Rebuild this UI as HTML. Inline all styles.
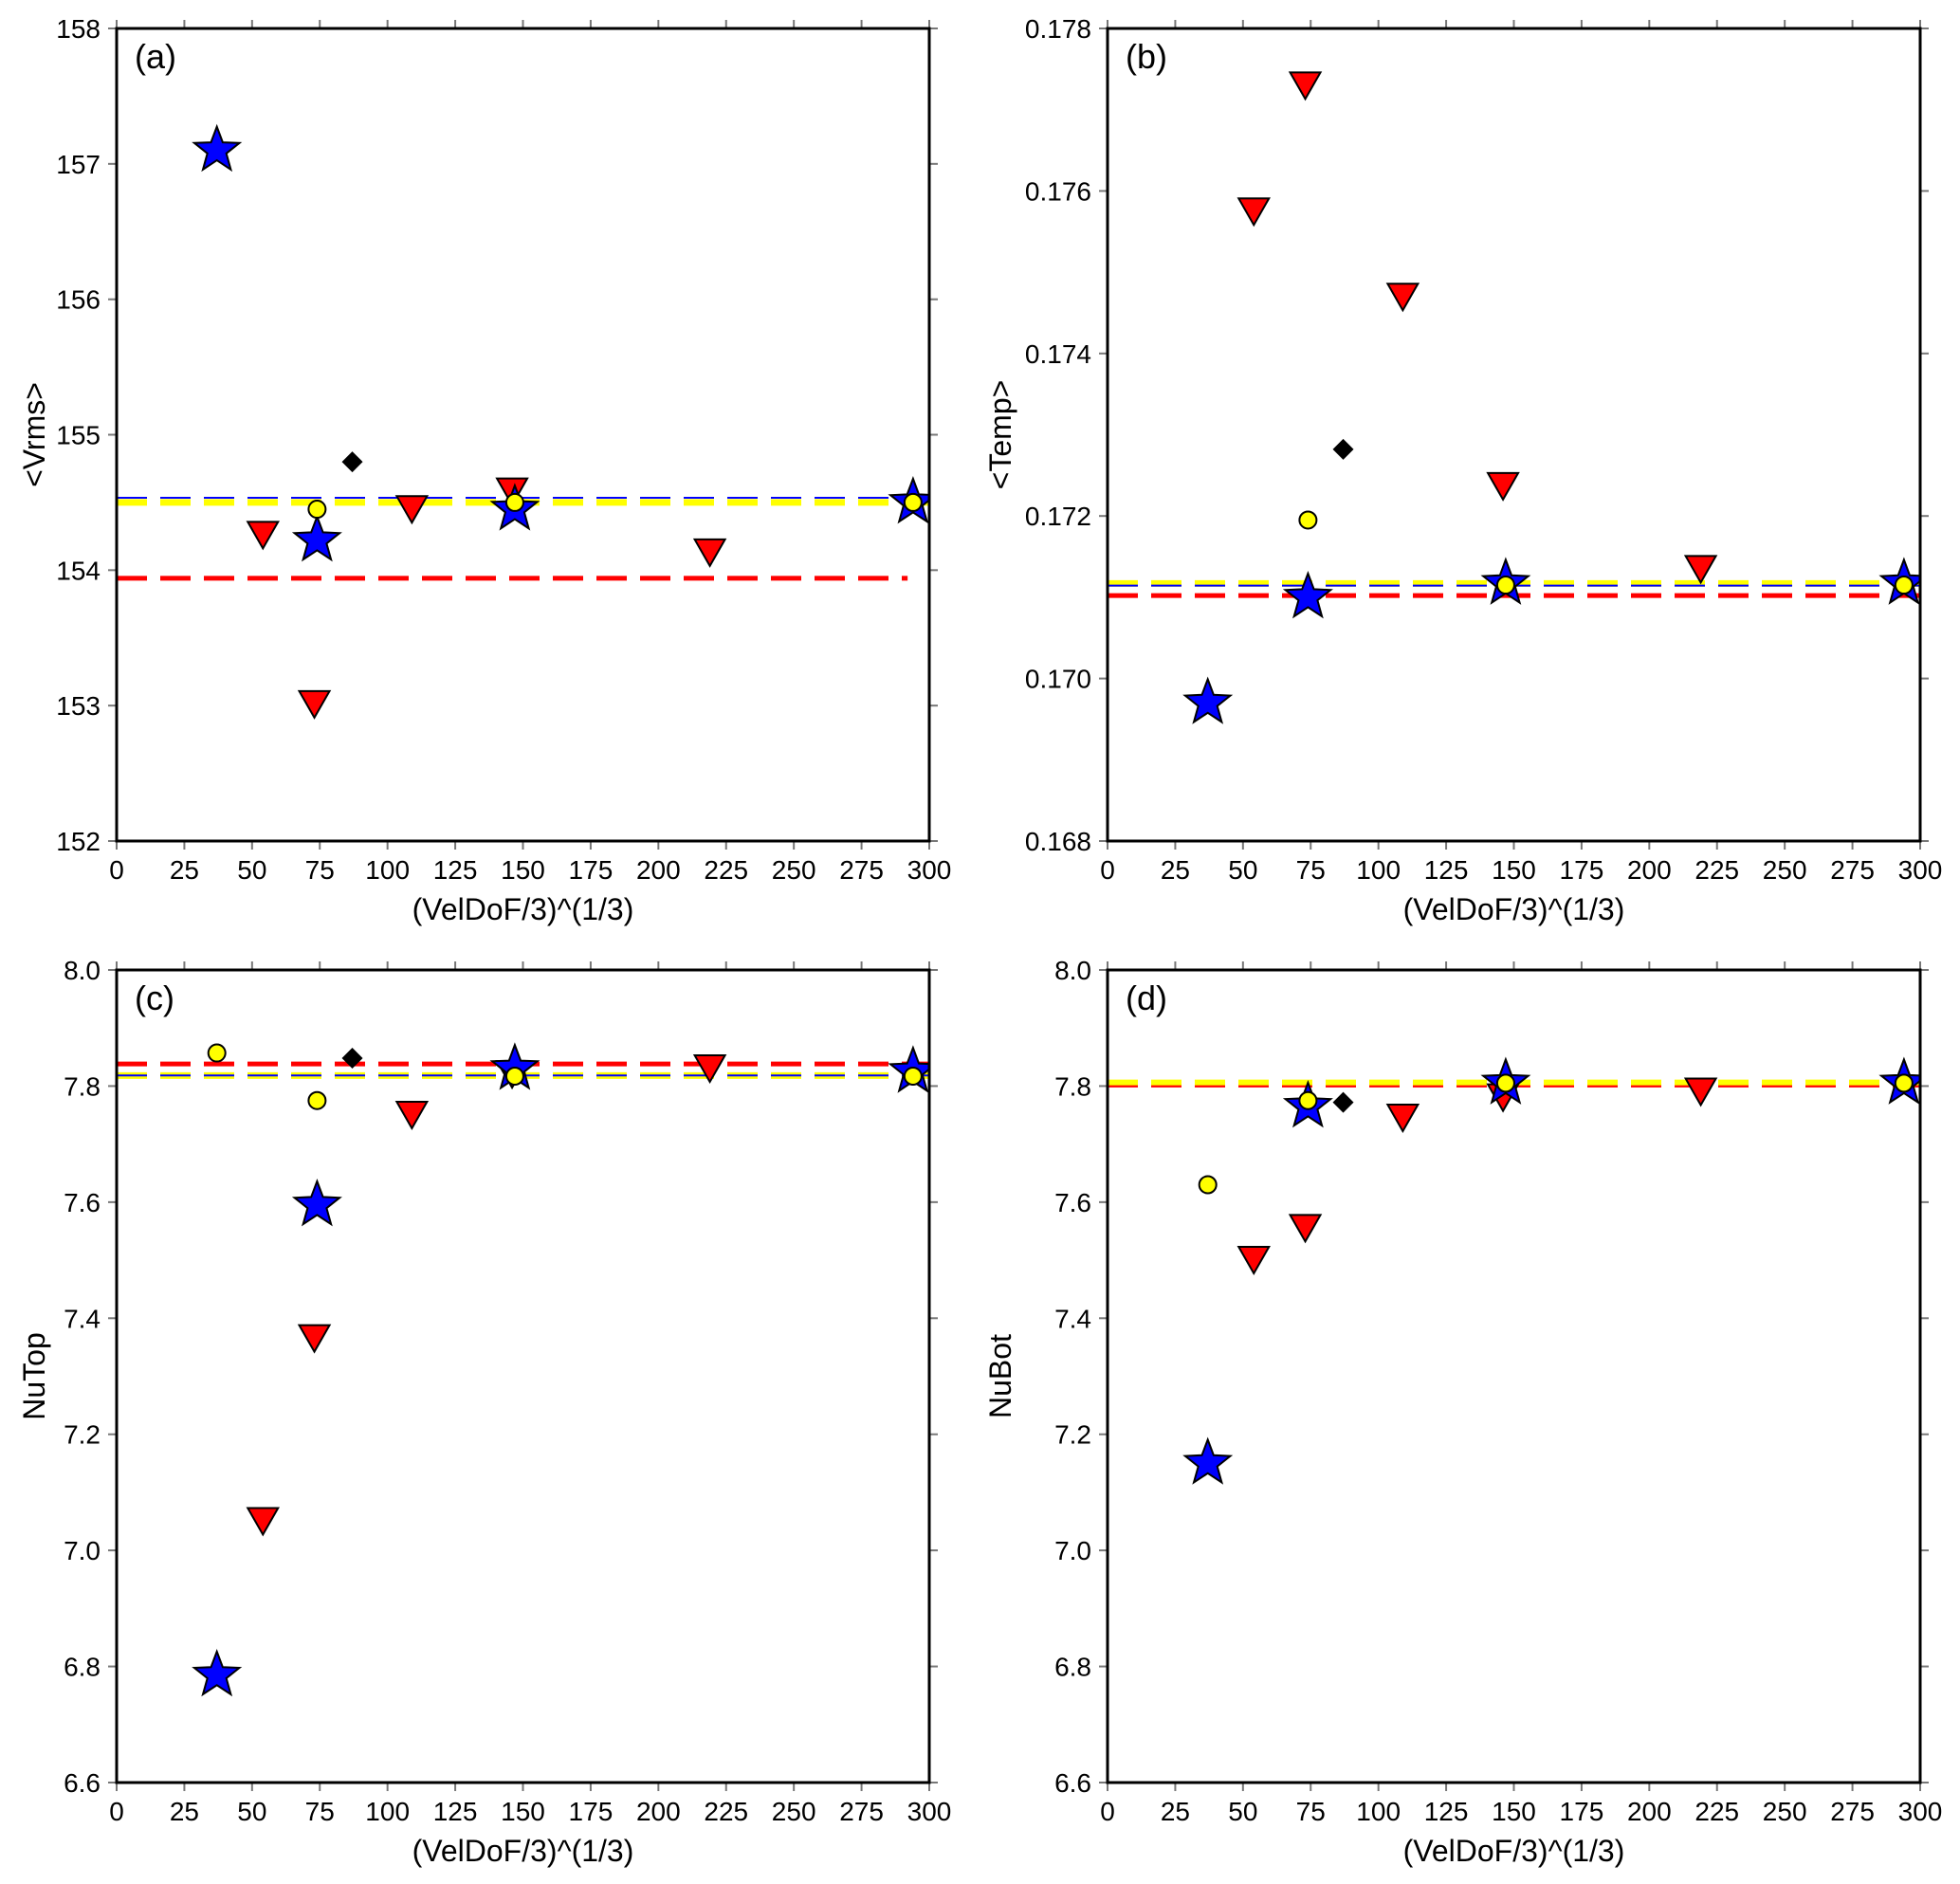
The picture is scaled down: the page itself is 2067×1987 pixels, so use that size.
<!DOCTYPE html>
<html><head><meta charset="utf-8"><style>
html,body{margin:0;padding:0;background:#fff;}
svg{display:block;font-family:"Liberation Sans",Arial,sans-serif;}
</style></head><body>
<svg id="fig" width="2067" height="1987" viewBox="0 0 2067 1987" xmlns="http://www.w3.org/2000/svg"></svg>
<script>
const xTicks=[0,25,50,75,100,125,150,175,200,225,250,275,300];
// panel a
const aYTicks=[152,153,154,155,156,157,158];
const aStarX=[37,74,147,294], aStarY=[157.1,154.22,154.45,154.5];
const aTriX=[54,73,109,146,219], aTriY=[154.28,153.03,154.47,154.6,154.15];
const aCircX=[74,147,294], aCircY=[154.45,154.5,154.5];
const aDiaX=[87], aDiaY=[154.8];
const aLines=[154.5,154.52,153.94];
// panel b
const bYTicks=[0.168,0.170,0.172,0.174,0.176,0.178];
const bStarX=[37,74,147,294], bStarY=[0.1697,0.1710,0.17117,0.17117];
const bTriX=[54,73,109,146,219], bTriY=[0.17578,0.17733,0.17473,0.1724,0.17138];
const bCircX=[74,147,294], bCircY=[0.17195,0.17115,0.17115];
const bDiaX=[87], bDiaY=[0.17282];
const bLines=[0.17117,0.17112,0.17102];
// panel c
const cYTicks=[6.6,6.8,7.0,7.2,7.4,7.6,7.8,8.0];
const cStarX=[37,74,147,294], cStarY=[6.785,7.595,7.83,7.825];
const cTriX=[54,73,109,146,219], cTriY=[7.055,7.37,7.755,7.825,7.835];
const cCircX=[37,74,147,294], cCircY=[7.857,7.775,7.817,7.817];
const cDiaX=[87], cDiaY=[7.848];
const cLines=[7.818,7.815,7.838];
// panel d
const dYTicks=[6.6,6.8,7.0,7.2,7.4,7.6,7.8,8.0];
const dStarX=[37,74,147,294], dStarY=[7.15,7.765,7.805,7.805];
const dTriX=[54,73,109,146,219], dTriY=[7.505,7.56,7.75,7.785,7.795];
const dCircX=[37,74,147,294], dCircY=[7.63,7.775,7.805,7.805];
const dDiaX=[87], dDiaY=[7.772];
const dLines=[7.803,7.803,7.800];

const NS="http://www.w3.org/2000/svg";
const svg=document.getElementById('fig');
function mk(tag,attrs,parent){const e=document.createElementNS(NS,tag);for(const k in attrs)e.setAttribute(k,attrs[k]);(parent||svg).appendChild(e);return e;}

function panel(id,left,top,yT,ylab,fmt,st,tr,ci,di,lines,redEnd,redThick){
  const W=857,H=857;
  const g=mk('g',{});
  
  
  const ymin=yT[0],ymax=yT[yT.length-1];
  const X=v=>left+v/300*W;
  const Y=v=>top+H-(v-ymin)/(ymax-ymin)*H;
  xTicks.forEach(t=>{
    const l=mk('line',{x1:X(t),x2:X(t),y1:top+H,y2:top+H+9,stroke:'#777','stroke-width':2},g);
    
    
    mk('line',{x1:X(t),x2:X(t),y1:top,y2:top-9,stroke:'#777','stroke-width':2},g);
    const tx=mk('text',{x:X(t),y:top+H+40,'font-size':28,'text-anchor':'middle',fill:'#000'},g);
    tx.textContent=t;
    
    
  });
  yT.forEach(t=>{
    mk('line',{x1:left-9,x2:left,y1:Y(t),y2:Y(t),stroke:'#777','stroke-width':2},g);
    mk('line',{x1:left+W,x2:left+W+9,y1:Y(t),y2:Y(t),stroke:'#777','stroke-width':2},g);
    const tx=mk('text',{x:left-17,y:Y(t)+10,'font-size':28,'text-anchor':'end',fill:'#000'},g);
    tx.textContent=fmt(t);
    
    
  });
  const ly=mk('line',{x1:left,x2:left+W,y1:Y(lines[0]),y2:Y(lines[0]),stroke:'#ffff00','stroke-width':7,'stroke-dasharray':'32 14'},g);
  
  
  if(id!=='d'){
    const lb=mk('line',{x1:left,x2:left+W,y1:Y(lines[1])-2,y2:Y(lines[1])-2,stroke:'#0000ff','stroke-width':2,'stroke-dasharray':'32 14'},g);
    
    
  }
  const lr=mk('line',{x1:left,x2:X(redEnd),y1:Y(lines[2]),y2:Y(lines[2]),stroke:'#ff0000','stroke-width':redThick,'stroke-dasharray':'32 14'},g);
  
  
  if(id==='d'){
    g.appendChild(ly);
    ly.setAttribute('y1',Y(lines[0])-2);ly.setAttribute('y2',Y(lines[0])-2);ly.setAttribute('stroke-width',6);
  }
  const clip='clip-'+id;
  const defs=mk('defs',{},g);const cp=mk('clipPath',{id:clip},defs);
  mk('rect',{x:left,y:top-40,width:W,height:H+80},cp);
  const mg=mk('g',{'clip-path':'url(#'+clip+')'},g);
  tr[0].forEach((x,i)=>{
    const cx=X(x),cy=Y(tr[1][i]);
    const p=mk('polygon',{points:`${cx-16},${cy-11} ${cx+16},${cy-11} ${cx},${cy+17}`,fill:'#ff0000',stroke:'#000','stroke-width':2},mg);
    
    
  });
  st[0].forEach((x,i)=>{
    const cx=X(x),cy=Y(st[1][i]);let pts=[];
    for(let k=0;k<10;k++){const r=k%2?10.5:25;const a=-Math.PI/2+k*Math.PI/5;pts.push((cx+r*Math.cos(a)).toFixed(1)+','+(cy+r*Math.sin(a)).toFixed(1));}
    const p=mk('polygon',{points:pts.join(' '),fill:'#0000ff',stroke:'#000','stroke-width':2},mg);
    
    
  });
  di[0].forEach((x,i)=>{
    const cx=X(x),cy=Y(di[1][i]);
    const p=mk('polygon',{points:`${cx},${cy-11} ${cx+11},${cy} ${cx},${cy+11} ${cx-11},${cy}`,fill:'#000'},mg);
    
    
  });
  ci[0].forEach((x,i)=>{
    const c=mk('circle',{cx:X(x),cy:Y(ci[1][i]),r:9,fill:'#ffff00',stroke:'#000','stroke-width':2},mg);
    
    
  });
  const fr=mk('rect',{x:left,y:top,width:W,height:H,fill:'none',stroke:'#000','stroke-width':3},g);
  
  
  const pl=mk('text',{x:left+19,y:top+42,'font-size':36,fill:'#000'},g);
  pl.textContent='('+id+')';
  
  
  const xt=mk('text',{x:left+W/2,y:top+H+83,'font-size':32,'text-anchor':'middle',fill:'#000'},g);
  xt.textContent='(VelDoF/3)^(1/3)';
  
  
  const yx=left-(id==='a'||id==='c'?76:102);
  const yt=mk('text',{x:yx,y:top+H/2,'font-size':32,'text-anchor':'middle',fill:'#000',transform:`rotate(-90 ${yx} ${top+H/2})`},g);
  yt.textContent=ylab;
  
  
}
const f0=t=>String(t), f3=t=>t.toFixed(3), f1=t=>t.toFixed(1);
panel('a',123,30,aYTicks,'<Vrms>',f0,[aStarX,aStarY],[aTriX,aTriY],[aCircX,aCircY],[aDiaX,aDiaY],aLines,292,5);
panel('b',1168,30,bYTicks,'<Temp>',f3,[bStarX,bStarY],[bTriX,bTriY],[bCircX,bCircY],[bDiaX,bDiaY],bLines,300,5);
panel('c',123,1023,cYTicks,'NuTop',f1,[cStarX,cStarY],[cTriX,cTriY],[cCircX,cCircY],[cDiaX,cDiaY],cLines,300,5);
panel('d',1168,1023,dYTicks,'NuBot',f1,[dStarX,dStarY],[dTriX,dTriY],[dCircX,dCircY],[dDiaX,dDiaY],dLines,300,3);
</script>
</body></html>
